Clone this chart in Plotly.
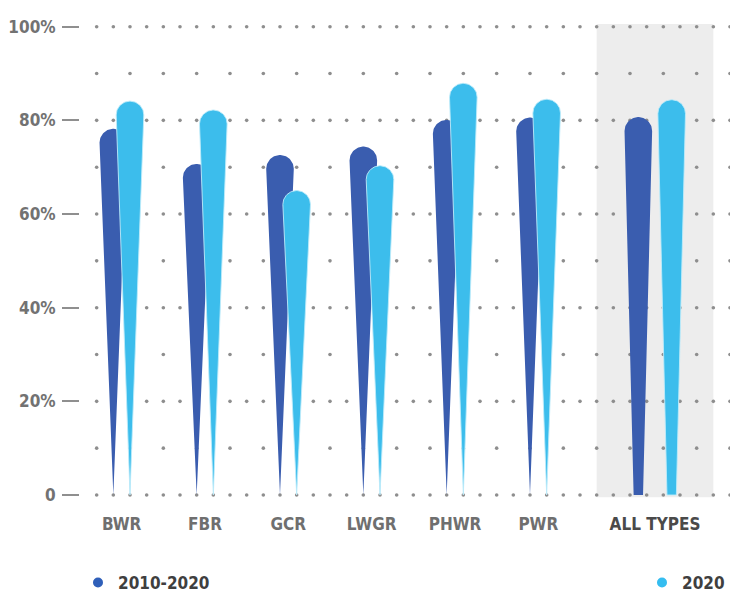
import numpy as np
import plotly.graph_objects as go

# Capacity factor by reactor type
categories = ["BWR", "FBR", "GCR", "LWGR", "PHWR", "PWR", "ALL TYPES"]
avg_2010_2020 = [78.2, 70.7, 72.6, 74.4, 80.1, 80.6, 80.7]
year_2020 = [84.1, 82.2, 65.0, 70.3, 87.9, 84.5, 84.4]
y_ticks = [0, 20, 40, 60, 80, 100]
y_tick_labels = ["0", "20%", "40%", "60%", "80%", "100%"]

# Category slots on the numeric x axis (the summary group sits a little apart)
group_pos = [0, 1, 2, 3, 4, 5, 6.4]
pair_offset = [0.1, 0.1, 0.1, 0.1, 0.1, 0.1, 0.2]

DARK = "#3a5daf"
LIGHT = "#3cbdec"
FONT = "Liberation Sans Narrow, DejaVu Sans Condensed, Roboto, sans-serif"

W, H = 730, 593
M_L, M_R, M_T, M_B = 80, 0, 20, 93
X_RANGE = [-0.5, 7.3]
Y_RANGE = [-1.068, 101.43]
sx = (W - M_L - M_R) / (X_RANGE[1] - X_RANGE[0])   # px per x unit
sy = (H - M_T - M_B) / (Y_RANGE[1] - Y_RANGE[0])   # px per y unit

R_PX = 13.8  # radius of the rounded cap


def teardrop(xc, top, tip_half_px):
    """Rounded-top spike from the baseline up to `top`."""
    hw = R_PX / sx
    r = R_PX / sy
    cy = top - r
    t = np.linspace(np.pi, 0, 40)
    xs = list(xc + hw * np.cos(t)) + [xc + tip_half_px / sx, xc - tip_half_px / sx, xc - hw]
    ys = list(cy + r * np.sin(t)) + [0, 0, cy]
    return xs, ys


def series_shapes(values, sign):
    xs, ys = [], []
    for i, v in enumerate(values):
        xc = group_pos[i] + sign * pair_offset[i]
        tip = 4.7 if categories[i] == "ALL TYPES" else 0.0
        px, py = teardrop(xc, v, tip)
        xs += px + [None]
        ys += py + [None]
    return xs, ys


fig = go.Figure()

# dotted grid: dense dots on the 20% lines, sparser dots on the 10% lines
dot_x, dot_y = [], []
grid_x = np.round(np.arange(-0.3, 7.31, 0.2), 2)
for lvl in range(0, 101, 10):
    for k, gx in enumerate(grid_x):
        if lvl % 20 == 0 or k % 2 == 0:
            dot_x.append(gx)
            dot_y.append(lvl)
fig.add_trace(go.Scatter(x=dot_x, y=dot_y, mode="markers",
                         marker=dict(size=3.6, color="#8e8e8e"),
                         hoverinfo="skip", showlegend=False))

dx, dy = series_shapes(avg_2010_2020, -1)
fig.add_trace(go.Scatter(x=dx, y=dy, mode="lines", fill="toself", fillcolor=DARK,
                         line=dict(width=0, color=DARK), hoverinfo="skip",
                         showlegend=False))
lx, ly = series_shapes(year_2020, +1)
fig.add_trace(go.Scatter(x=lx, y=ly, mode="lines", fill="toself", fillcolor=LIGHT,
                         line=dict(width=1, color="rgba(190,235,250,0.9)"),
                         hoverinfo="skip", showlegend=False))

# legend entries
fig.add_trace(go.Scatter(x=[None], y=[None], mode="markers", name="2010-2020",
                         marker=dict(size=10, color="#2f5fb9"), legend="legend"))
fig.add_trace(go.Scatter(x=[None], y=[None], mode="markers", name="2020",
                         marker=dict(size=10, color="#35bdf0"), legend="legend2"))

# shaded summary column
fig.add_shape(type="rect", xref="x", yref="y", x0=5.7, x1=7.1, y0=-0.5, y1=100.6,
              fillcolor="#ededed", line=dict(width=0), layer="below")

tick_text = [c if c != "ALL TYPES" else "<span style='color:#4a4a4a'>ALL TYPES</span>"
             for c in categories]

fig.update_layout(
    width=W, height=H,
    margin=dict(l=M_L, r=M_R, t=M_T, b=M_B, autoexpand=False),
    paper_bgcolor="white", plot_bgcolor="rgba(0,0,0,0)",
    font=dict(family=FONT),
    xaxis=dict(range=X_RANGE, showgrid=False, zeroline=False, showline=False,
               tickvals=group_pos, ticktext=tick_text, ticks="", tickangle=0,
               automargin=False, ticklabelstandoff=12,
               tickfont=dict(family=FONT, size=17, color="#6f6f6f", weight="bold")),
    yaxis=dict(range=Y_RANGE, showgrid=False, zeroline=False, showline=False,
               tickvals=y_ticks, ticktext=y_tick_labels, ticks="outside",
               automargin=False,
               ticklen=17, tickwidth=2, tickcolor="#8f8f8f", ticklabelstandoff=3,
               tickfont=dict(family=FONT, size=17, color="#727272", weight="bold")),
    legend=dict(xref="container", yref="container", x=78 / W, y=1 - 583 / H,
                xanchor="left", yanchor="middle", bgcolor="rgba(0,0,0,0)",
                font=dict(family=FONT, size=17, color="#3f3f3f", weight="bold")),
    legend2=dict(xref="container", yref="container", x=1.0, y=1 - 583 / H,
                 xanchor="right", yanchor="middle", bgcolor="rgba(0,0,0,0)",
                 font=dict(family=FONT, size=17, color="#3f3f3f", weight="bold")),
)

fig.write_html("out.html")
